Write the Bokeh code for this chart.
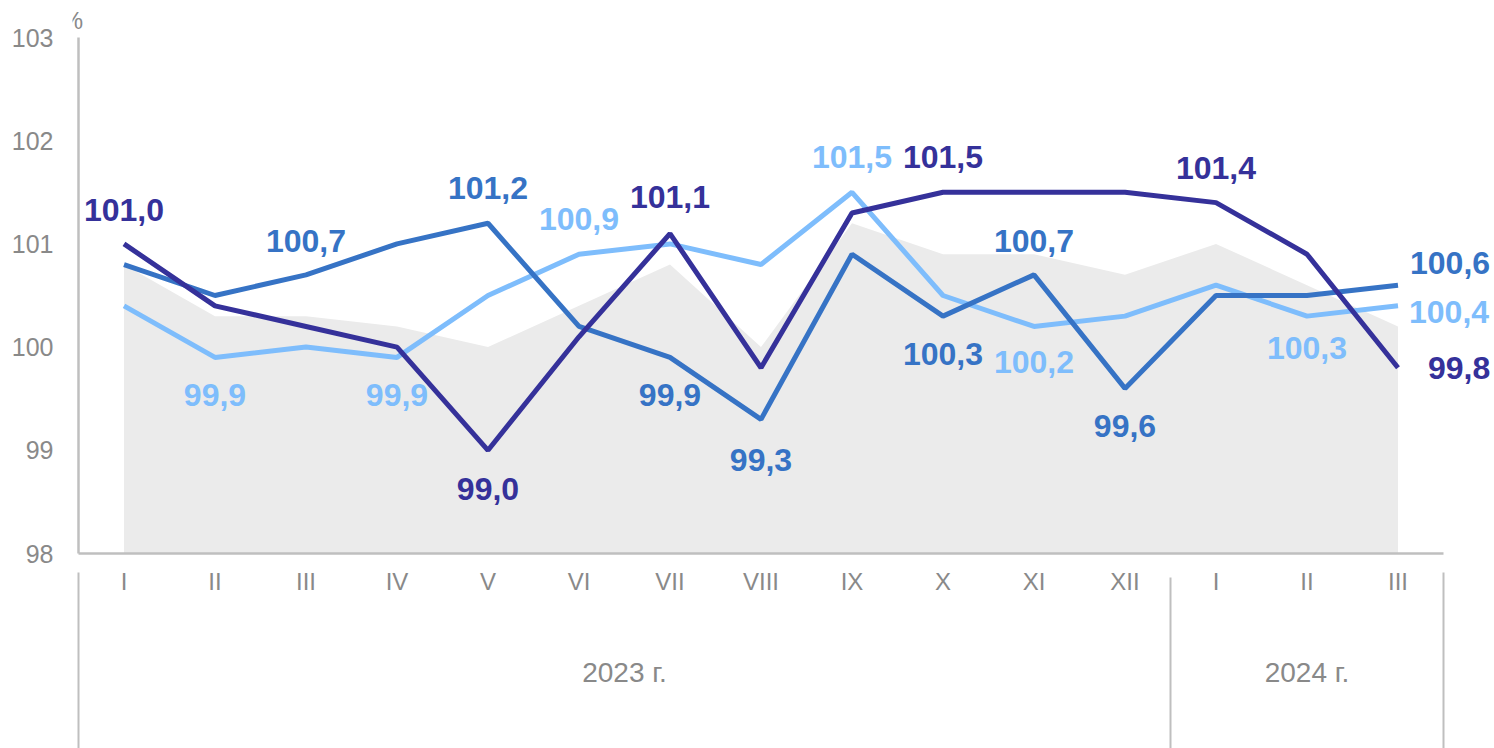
from bokeh.plotting import figure
from bokeh.models import ColumnDataSource, Range1d, FixedTicker, Label
from bokeh.core.properties import value
from bokeh.embed import file_html
from bokeh.resources import INLINE

# ---------------- data ----------------
months = ["I", "II", "III", "IV", "V", "VI", "VII", "VIII", "IX", "X", "XI", "XII", "I", "II", "III"]
years = ["2023 г.", "2024 г."]
months_per_year = [12, 3]
y_ticks = [98, 99, 100, 101, 102, 103]

grey_area = [100.8, 100.3, 100.3, 100.2, 100.0, 100.4, 100.8, 100.0, 101.2, 100.9, 100.9, 100.7, 101.0, 100.6, 100.2]
navy = [101.0, 100.4, 100.2, 100.0, 99.0, 100.1, 101.1, 99.8, 101.3, 101.5, 101.5, 101.5, 101.4, 100.9, 99.8]
mid = [100.8, 100.5, 100.7, 101.0, 101.2, 100.2, 99.9, 99.3, 100.9, 100.3, 100.7, 99.6, 100.5, 100.5, 100.6]
light = [100.4, 99.9, 100.0, 99.9, 100.5, 100.9, 101.0, 100.8, 101.5, 100.5, 100.2, 100.3, 100.6, 100.3, 100.4]

# which points carry a value label, and where (index, x offset px, y offset px, align)
navy_lbl = [(0, 0, -34, "center"), (4, 0, 39, "center"), (6, 0, -37, "center"),
            (9, 0, -35, "center"), (12, 0, -35, "center"), (14, 30, 0, "left")]
mid_lbl = [(2, 0, -34, "center"), (4, 0, -35, "center"), (6, 0, 38, "center"), (7, 0, 41, "center"),
           (9, 0, 38, "center"), (10, 0, -34, "center"), (11, 0, 38, "center"), (14, 12, -22, "left")]
light_lbl = [(1, 0, 38, "center"), (3, 0, 38, "center"), (5, 0, -35, "center"), (8, 0, -35, "center"),
             (10, 0, 36, "center"), (13, 0, 32, "center"), (14, 11, 6, "left")]

# ---------------- style ----------------
NAVY = "#35319A"
MID = "#3673C5"
LIGHT = "#7EBDFC"
GREY_FILL = "#EBEBEB"
AXIS_GREY = "#BFBFBF"
TEXT_GREY = "#898989"
FONT = "Liberation Sans"

W, H = 1494, 748
PX_X = 91.0      # px per category
PX_Y = 103.2     # px per unit
AX_LEFT = 78
AX_BOTTOM = 553
AX_TOP = 37
LEFT_PAD = 6

n = len(months)
xs = list(range(n))
ymin, ymax = y_ticks[0], y_ticks[-1]

x_start = -0.5 - LEFT_PAD / PX_X
x_end = -0.5 + (W - AX_LEFT) / PX_X
y_end = ymax + AX_TOP / PX_Y
y_start = ymin - (H - AX_BOTTOM) / PX_Y

p = figure(width=W, height=H, output_backend="svg", toolbar_location=None,
           x_range=Range1d(x_start, x_end), y_range=Range1d(y_start, y_end),
           x_axis_location=None, min_border_left=AX_LEFT - LEFT_PAD,
           min_border_right=0, min_border_top=0, min_border_bottom=0)
p.outline_line_color = None
p.grid.visible = False
p.background_fill_color = "white"
p.border_fill_color = "white"

ya = p.yaxis[0]
ya.ticker = FixedTicker(ticks=y_ticks)
ya.bounds = (ymin, ymax)
ya.axis_line_color = None
ya.major_tick_line_color = None
ya.minor_tick_line_color = None
ya.major_tick_out = 0
ya.major_tick_in = 0
ya.major_label_standoff = AX_LEFT - LEFT_PAD - 53
ya.major_label_text_font = FONT
ya.major_label_text_font_size = "25px"
ya.major_label_text_color = TEXT_GREY

# grey area
p.varea(x=xs, y1=[ymin] * n, y2=grey_area, fill_color=GREY_FILL)

# axis lines
p.segment(x0=[-0.5], y0=[ymin], x1=[n - 0.5], y1=[ymin], line_color=AXIS_GREY, line_width=2.5)
p.segment(x0=[-0.5], y0=[ymin], x1=[-0.5], y1=[ymax], line_color=AXIS_GREY, line_width=2.5)

# year separators
bounds = [-0.5]
acc = -0.5
for m in months_per_year:
    acc += m
    bounds.append(acc)
sep_top = [ymin - (24 if 0 < i < len(bounds) - 1 else 19) / PX_Y for i in range(len(bounds))]
p.segment(x0=bounds, y0=sep_top, x1=bounds, y1=[y_start] * len(bounds),
          line_color=AXIS_GREY, line_width=2)

# month labels
p.text(x=xs, y=[ymin] * n, text=months, y_offset=28, text_align="center",
       text_baseline="middle", text_font=value(FONT), text_font_size="24px", text_color=TEXT_GREY)
# year labels
centers = [(bounds[i] + bounds[i + 1]) / 2 for i in range(len(years))]
p.text(x=centers, y=[ymin] * len(years), text=years, y_offset=119, text_align="center",
       text_baseline="middle", text_font=value(FONT), text_font_size="28px", text_color=TEXT_GREY)
# percent sign
p.add_layout(Label(x=-0.5, y=ymax, text="%", x_offset=-6, y_offset=17, text_align="center",
                   text_baseline="middle", text_font=FONT, text_font_size="24px",
                   text_color=TEXT_GREY))

# lines (light bottom, navy top)
for vals, col in [(light, LIGHT), (mid, MID), (navy, NAVY)]:
    p.line(xs, vals, line_color=col, line_width=5)


def fmt(v):
    return f"{v:.1f}".replace(".", ",")


for vals, col, spec in [(light, LIGHT, light_lbl), (mid, MID, mid_lbl), (navy, NAVY, navy_lbl)]:
    src = ColumnDataSource(dict(
        x=[i for i, _, _, _ in spec],
        y=[vals[i] for i, _, _, _ in spec],
        t=[fmt(vals[i]) for i, _, _, _ in spec],
        dx=[d for _, d, _, _ in spec],
        dy=[d for _, _, d, _ in spec],
        al=[a for _, _, _, a in spec],
    ))
    p.text(x="x", y="y", text="t", x_offset="dx", y_offset="dy", text_align="al",
           text_baseline="middle", source=src, text_font=value(FONT), text_font_size="32px",
           text_font_style="bold", text_color=col)

open("out.html", "w").write(file_html(p, INLINE))
